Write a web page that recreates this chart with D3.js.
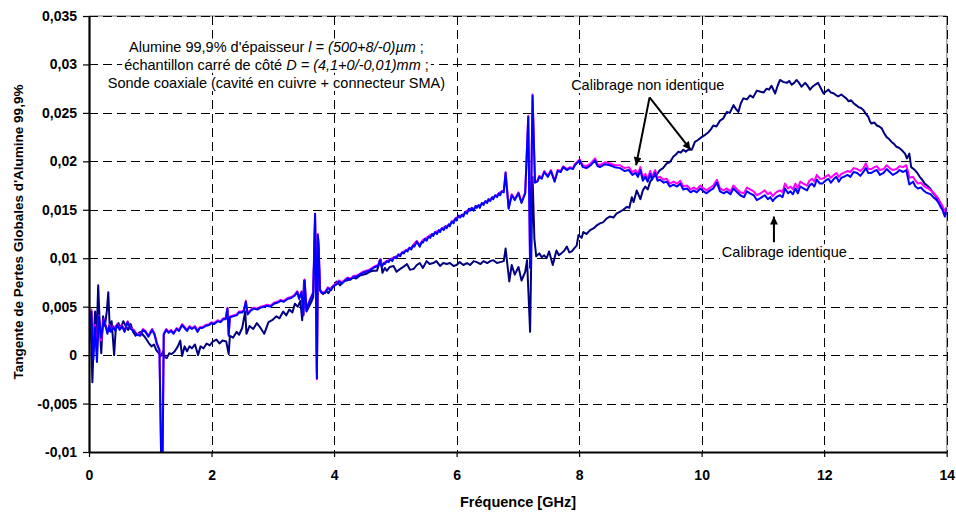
<!DOCTYPE html>
<html>
<head>
<meta charset="utf-8">
<script src="https://cdn.jsdelivr.net/npm/d3@7"></script>
<style>
  html, body { margin: 0; padding: 0; background: #ffffff; }
  svg { display: block; font-family: Arial, "Liberation Sans", Helvetica, sans-serif; }
</style>
</head>
<body>
<svg id="chart" width="956" height="512"></svg>
<script>
// ---- Axes: tick values and their printed labels (French decimal comma) ----
const xTicks = [0, 2, 4, 6, 8, 10, 12, 14];
const xTickLabels = ["0", "2", "4", "6", "8", "10", "12", "14"];
const yTicks = [-0.01, -0.005, 0, 0.005, 0.01, 0.015, 0.02, 0.025, 0.03, 0.035];
const yTickLabels = ["-0,01", "-0,005", "0", "0,005", "0,01", "0,015", "0,02", "0,025", "0,03", "0,035"];

// ---- Calibrage identique, run 1 (magenta): frequency (GHz) and loss tangent ----
const freqMagenta = [
  0.02,0.04,0.07,0.10,0.13,0.16,0.20,0.24,0.27,0.30,0.33,0.36,0.40,0.43,0.46,0.50,0.54,0.58,0.63,0.68,0.73,0.78,0.84,0.88,0.92,0.97,1.03,1.07,1.11,1.15,1.18,1.20,1.22,
  1.26,1.30,1.34,1.38,1.43,1.47,1.52,1.56,1.60,1.64,1.68,1.73,1.77,1.81,1.85,1.90,1.96,2.00,2.04,2.10,2.15,2.19,2.23,2.26,2.28,2.30,2.35,2.41,2.45,2.50,2.53,2.56,2.59,2.64,2.69,2.75,2.80,2.86,2.91,2.96,3.02,3.07,3.13,3.18,3.24,3.30,3.35,3.40,3.43,3.47,3.50,3.52,3.55,3.58,3.61,3.66,
  3.69,3.705,3.72,3.735,3.75,3.77,
  3.80,3.85,3.90,3.95,3.99,4.04,4.08,4.13,4.18,4.22,4.27,4.32,4.37,4.42,4.47,4.52,4.57,4.62,4.67,4.72,4.75,4.78,4.83,4.89,4.95,5.02,5.08,5.14,5.20,5.26,5.31,5.35,5.40,5.45,5.51,5.57,5.62,5.68,5.73,5.79,5.84,5.89,5.95,6.00,6.06,6.11,6.17,6.22,6.28,6.33,6.38,6.44,6.50,6.55,6.60,6.66,6.71,6.77,
  6.80,6.85,6.90,6.95,7.01,7.06,7.12,7.17,7.20,7.24,7.28,7.32,7.35,7.39,7.43,7.49,7.54,7.60,7.65,7.70,7.74,7.80,7.85,7.90,7.93,8.01,
  8.06,8.12,8.19,8.26,8.30,8.34,8.42,8.50,8.58,8.67,8.74,8.81,8.87,8.92,8.96,9.00,9.04,9.08,9.12,9.16,9.19,9.24,9.28,9.32,9.38,9.43,9.48,9.54,9.60,9.65,9.70,9.76,9.82,9.87,9.92,9.98,10.03,10.08,10.14,10.19,10.25,10.30,10.36,10.41,10.47,10.52,10.58,10.63,10.69,10.74,10.79,10.85,10.90,10.96,
  11.03,11.08,11.12,11.16,11.20,11.24,11.28,11.32,11.36,11.41,11.45,11.49,11.53,11.57,11.61,11.66,11.72,11.76,11.80,11.84,11.88,11.93,11.97,12.02,12.07,12.11,12.16,12.20,12.24,12.28,12.32,12.38,12.43,12.48,12.54,12.59,12.64,12.68,12.72,12.77,12.82,12.86,12.91,12.97,13.02,13.07,13.12,13.18,13.23,13.29,13.34,13.37,13.39,13.45,13.49,13.53,13.58,13.62,13.66,13.70,13.74,13.78,13.82,13.86,13.90,13.93,13.97,14.00
];
const tanMagenta = [
  0.0036,0.0047,0.0010,0.0031,0.0002,0.0041,0.0015,0.0037,0.0031,0.0024,0.0031,0.0025,0.0030,0.0026,0.0032,0.0027,0.0031,0.0025,0.0035,0.0028,0.0026,0.0022,0.0021,0.0027,0.0025,0.0020,0.0027,0.0022,0.0012,0.0006,-0.0115,-0.0115,0.0022,
  0.0027,0.0024,0.0026,0.0023,0.0028,0.0026,0.0032,0.0029,0.0026,0.0030,0.0028,0.0030,0.0025,0.0029,0.0029,0.0031,0.0032,0.0034,0.0033,0.0036,0.0035,0.0038,0.0038,0.0049,0.0021,0.0040,0.0041,0.0042,0.0045,0.0045,0.0047,0.0056,0.0043,0.0047,0.0049,0.0048,0.0050,0.0051,0.0052,0.0051,0.0054,0.0055,0.0057,0.0056,0.0059,0.0060,0.0062,0.0066,0.0059,0.0066,0.0042,0.0078,0.0047,0.0053,0.0058,0.0065,
  0.0146,0.0071,-0.0025,0.0125,0.0111,0.0068,
  0.0065,0.0065,0.0070,0.0068,0.0072,0.0074,0.0077,0.0075,0.0078,0.0080,0.0079,0.0082,0.0082,0.0084,0.0086,0.0087,0.0088,0.0090,0.0092,0.0093,0.0099,0.0092,0.0096,0.0098,0.0100,0.0102,0.0104,0.0107,0.0109,0.0111,0.0115,0.0118,0.0113,0.0119,0.0121,0.0124,0.0125,0.0128,0.0129,0.0132,0.0133,0.0135,0.0139,0.0142,0.0144,0.0145,0.0149,0.0151,0.0151,0.0154,0.0154,0.0157,0.0159,0.0161,0.0163,0.0165,0.0168,0.0170,
  0.0189,0.0152,0.0166,0.0161,0.0168,0.0158,0.0168,0.0247,0.0091,0.0269,0.0179,0.0180,0.0185,0.0183,0.0190,0.0185,0.0191,0.0180,0.0191,0.0190,0.0195,0.0192,0.0194,0.0193,0.0197,0.0202,
  0.0196,0.0195,0.0198,0.0203,0.0197,0.0196,0.0199,0.0198,0.0196,0.0196,0.0193,0.0194,0.0189,0.0191,0.0187,0.0194,0.0183,0.0187,0.0182,0.0190,0.0184,0.0191,0.0183,0.0184,0.0181,0.0182,0.0177,0.0179,0.0177,0.0180,0.0174,0.0175,0.0171,0.0173,0.0171,0.0175,0.0172,0.0170,0.0173,0.0175,0.0181,0.0172,0.0170,0.0172,0.0169,0.0175,0.0171,0.0168,0.0167,0.0173,0.0171,0.0169,0.0165,0.0167,
  0.0170,0.0166,0.0168,0.0164,0.0167,0.0169,0.0170,0.0168,0.0177,0.0172,0.0174,0.0171,0.0177,0.0172,0.0179,0.0177,0.0175,0.0180,0.0182,0.0179,0.0186,0.0182,0.0182,0.0184,0.0186,0.0183,0.0186,0.0188,0.0184,0.0187,0.0188,0.0190,0.0189,0.0193,0.0192,0.0190,0.0193,0.0198,0.0192,0.0192,0.0194,0.0195,0.0191,0.0192,0.0196,0.0193,0.0191,0.0192,0.0195,0.0194,0.0196,0.0189,0.0183,0.0184,0.0180,0.0177,0.0178,0.0175,0.0173,0.0172,0.0170,0.0168,0.0165,0.0162,0.0157,0.0154,0.0147,0.0153
];

// ---- Calibrage identique, run 2 (blue): frequency (GHz) and loss tangent ----
const freqBleu = [
  0.02,0.04,0.07,0.10,0.13,0.16,0.20,0.24,0.27,0.30,0.33,0.36,0.40,0.43,0.46,0.50,0.54,0.58,0.63,0.68,0.73,0.78,0.84,0.88,0.92,0.97,1.03,1.07,1.11,1.15,1.18,1.20,1.22,
  1.26,1.30,1.34,1.38,1.43,1.47,1.52,1.56,1.60,1.64,1.68,1.73,1.77,1.81,1.85,1.90,1.96,2.00,2.04,2.10,2.15,2.19,2.23,2.26,2.28,2.30,2.35,2.41,2.45,2.50,2.53,2.56,2.59,2.64,2.69,2.75,2.80,2.86,2.91,2.96,3.02,3.07,3.13,3.18,3.24,3.30,3.35,3.40,3.43,3.47,3.50,3.52,3.55,3.58,3.61,3.66,
  3.69,3.705,3.72,3.735,3.75,3.77,
  3.80,3.85,3.90,3.95,3.99,4.04,4.08,4.13,4.18,4.22,4.27,4.32,4.37,4.42,4.47,4.52,4.57,4.62,4.67,4.72,4.75,4.78,
  4.81,4.83,4.86,4.89,4.92,4.95,4.98,5.02,5.05,5.08,5.11,5.14,5.17,5.20,5.23,5.26,5.29,5.31,5.35,5.40,5.43,5.45,5.48,5.51,5.54,5.57,5.60,5.62,5.65,5.68,5.71,5.73,5.76,5.79,5.82,5.84,5.87,5.89,5.92,5.95,5.98,
  6.00,6.03,6.06,6.09,6.11,6.14,6.17,6.20,6.22,6.25,6.28,6.31,6.33,6.36,6.38,6.41,6.44,6.47,6.50,6.52,6.55,6.58,6.60,6.63,6.66,6.69,6.71,6.74,6.77,
  6.80,6.85,6.90,6.95,7.01,7.06,7.12,7.17,7.20,7.24,7.28,7.32,7.35,7.39,7.43,7.49,7.54,7.60,7.65,7.70,7.74,7.80,7.85,7.90,7.93,8.01,
  8.06,8.12,8.19,8.26,8.30,8.34,8.42,8.50,8.58,8.67,8.74,8.81,8.87,8.92,8.96,9.00,9.04,9.08,9.12,9.16,9.19,9.24,9.28,9.32,9.38,9.43,9.48,9.54,9.60,9.65,9.70,9.76,9.82,9.87,9.92,9.98,10.03,10.08,10.14,10.19,10.25,10.30,10.36,10.41,10.47,10.52,10.58,10.63,10.69,10.74,10.79,10.85,10.90,10.96,
  11.03,11.08,11.12,11.16,11.20,11.24,11.28,11.32,11.36,11.41,11.45,11.49,11.53,11.57,11.61,11.66,11.72,11.76,11.80,11.84,11.88,11.93,11.97,12.02,12.07,12.11,12.16,12.20,12.24,12.28,12.32,12.38,12.43,12.48,12.54,12.59,12.64,12.68,12.72,12.77,12.82,12.86,12.91,12.97,13.02,13.07,13.12,13.18,13.23,13.29,13.34,13.37,13.39,13.45,13.49,13.53,13.58,13.62,13.66,13.70,13.74,13.78,13.82,13.86,13.90,13.93,13.97,14.00
];
const tanBleu = [
  0.0029,0.0045,-0.0005,0.0029,-0.0007,0.0040,0.0018,0.0036,0.0030,0.0022,0.0030,0.0024,0.0029,0.0025,0.0031,0.0026,0.0030,0.0024,0.0034,0.0027,0.0025,0.0021,0.0020,0.0026,0.0024,0.0019,0.0026,0.0021,0.0011,0.0005,-0.0115,-0.0115,0.0021,
  0.0026,0.0023,0.0025,0.0022,0.0027,0.0025,0.0031,0.0028,0.0025,0.0029,0.0027,0.0029,0.0024,0.0028,0.0028,0.0030,0.0031,0.0033,0.0032,0.0035,0.0034,0.0037,0.0037,0.0048,0.0020,0.0039,0.0040,0.0041,0.0044,0.0044,0.0046,0.0055,0.0042,0.0046,0.0048,0.0047,0.0049,0.0050,0.0051,0.0050,0.0053,0.0054,0.0056,0.0055,0.0058,0.0059,0.0061,0.0065,0.0058,0.0065,0.0041,0.0077,0.0046,0.0052,0.0057,0.0064,
  0.0146,0.0070,-0.0024,0.0124,0.0110,0.0067,
  0.0064,0.0064,0.0069,0.0067,0.0071,0.0073,0.0076,0.0074,0.0077,0.0079,0.0078,0.0081,0.0081,0.0083,0.0085,0.0086,0.0087,0.0089,0.0091,0.0092,0.0098,0.0091,
  0.0095,0.0094,0.0097,0.0096,0.0099,0.0097,0.0101,0.0100,0.0104,0.0102,0.0106,0.0105,0.0108,0.0107,0.0111,0.0109,0.0113,0.0112,0.0117,0.0112,0.0117,0.0116,0.0120,0.0118,0.0122,0.0121,0.0125,0.0123,0.0127,0.0125,0.0129,0.0127,0.0131,0.0129,0.0133,0.0131,0.0135,0.0133,0.0138,0.0136,0.0141,
  0.0139,0.0144,0.0142,0.0145,0.0143,0.0148,0.0146,0.0151,0.0149,0.0152,0.0149,0.0154,0.0152,0.0155,0.0152,0.0157,0.0155,0.0159,0.0157,0.0161,0.0159,0.0163,0.0161,0.0165,0.0163,0.0167,0.0165,0.0169,0.0168,
  0.0188,0.0151,0.0165,0.0160,0.0167,0.0157,0.0167,0.0246,0.0090,0.0268,0.0178,0.0179,0.0184,0.0182,0.0189,0.0184,0.0190,0.0179,0.0190,0.0189,0.0194,0.0191,0.0193,0.0192,0.0196,0.0201,
  0.0194,0.0193,0.0196,0.0201,0.0195,0.0194,0.0197,0.0196,0.0194,0.0193,0.0190,0.0191,0.0186,0.0188,0.0184,0.0191,0.0180,0.0184,0.0179,0.0187,0.0181,0.0188,0.0180,0.0181,0.0178,0.0179,0.0174,0.0176,0.0174,0.0177,0.0171,0.0172,0.0168,0.0170,0.0168,0.0172,0.0169,0.0167,0.0170,0.0172,0.0178,0.0169,0.0167,0.0169,0.0166,0.0172,0.0168,0.0165,0.0163,0.0169,0.0167,0.0165,0.0160,0.0162,
  0.0165,0.0161,0.0163,0.0159,0.0162,0.0164,0.0165,0.0163,0.0172,0.0167,0.0169,0.0166,0.0172,0.0167,0.0174,0.0172,0.0170,0.0175,0.0177,0.0174,0.0181,0.0177,0.0177,0.0180,0.0182,0.0178,0.0182,0.0184,0.0179,0.0183,0.0184,0.0186,0.0184,0.0189,0.0188,0.0185,0.0189,0.0193,0.0188,0.0188,0.0190,0.0191,0.0186,0.0188,0.0192,0.0189,0.0186,0.0188,0.0191,0.0189,0.0191,0.0182,0.0176,0.0179,0.0174,0.0172,0.0173,0.0170,0.0168,0.0167,0.0166,0.0163,0.0161,0.0158,0.0153,0.0150,0.0143,0.0152
];

// ---- Calibrage non identique: frequency (GHz) and loss tangent ----
const freqNonIdentique = [
  0.02,0.04,0.055,0.08,0.10,0.12,0.15,0.18,0.20,0.23,0.26,0.29,0.315,0.34,0.37,0.41,0.44,0.48,0.52,0.56,0.60,0.64,0.68,0.72,0.76,0.80,0.84,0.88,0.92,0.97,1.02,1.06,1.10,1.14,1.17,1.21,1.24,1.27,1.31,1.35,1.40,1.45,1.49,1.52,1.56,1.60,1.64,1.68,1.73,1.78,1.82,1.87,1.92,1.97,
  2.02,2.08,2.13,2.18,2.24,2.28,2.30,2.35,2.41,2.45,2.50,2.55,2.57,2.62,2.68,2.74,2.79,2.86,2.93,2.99,3.06,3.11,3.17,3.22,3.27,3.32,3.36,3.41,3.45,3.48,3.51,3.55,3.59,3.63,3.66,3.69,3.72,3.74,3.77,3.82,3.87,3.91,3.96,
  4.00,4.04,4.10,4.15,4.20,4.26,4.31,4.36,4.42,4.47,4.53,4.58,4.64,4.70,4.76,4.79,4.83,4.86,4.91,4.97,5.02,5.08,5.13,5.19,5.24,5.30,5.35,5.40,5.45,5.51,5.56,5.62,5.67,5.73,5.78,5.84,5.89,5.95,
  6.00,6.05,6.11,6.17,6.22,6.28,6.33,6.39,6.44,6.50,6.55,6.60,6.66,6.71,6.77,6.80,6.86,6.90,6.95,7.01,7.06,7.12,7.15,7.20,7.24,7.27,7.30,7.35,7.39,7.43,7.47,7.51,7.57,7.63,7.67,7.71,7.76,7.80,7.84,7.88,7.93,7.96,7.99,
  8.04,8.07,8.12,8.18,8.24,8.29,8.34,8.39,8.45,8.50,8.56,8.61,8.67,8.72,8.78,8.82,8.86,8.89,8.94,9.00,9.04,9.08,9.12,9.16,9.21,9.26,9.32,9.37,9.43,9.48,9.54,9.58,9.62,9.66,9.70,9.74,9.78,9.84,9.89,9.94,
  10.00,10.05,10.11,10.15,10.19,10.24,10.30,10.35,10.41,10.46,10.52,10.56,10.60,10.64,10.68,10.74,10.79,10.84,10.90,10.95,11.01,11.06,11.10,11.14,11.20,11.24,11.28,11.33,11.39,11.43,11.47,11.51,11.55,11.59,11.63,11.69,11.73,11.77,11.81,11.85,11.90,11.95,
  11.99,12.03,12.07,12.11,12.16,12.20,12.23,12.28,12.32,12.36,12.40,12.44,12.48,12.52,12.56,12.60,12.64,12.68,12.72,12.75,12.77,12.82,12.86,12.90,12.94,12.98,13.02,13.06,13.10,13.14,13.18,13.22,13.26,13.32,13.35,13.39,13.42,13.48,13.52,13.56,13.60,13.64,13.68,13.73,13.77,13.81,13.85,13.89,13.93,13.97,14.00
];
const tanNonIdentique = [
  0.0040,0.0010,-0.0028,0.0020,0.0045,0.0010,0.0072,0.0025,0.0002,0.0040,0.0030,0.0045,0.0065,0.0025,0.0035,0.0000,0.0030,0.0033,0.0028,0.0035,0.0030,0.0026,0.0032,0.0024,0.0020,0.0022,0.0024,0.0021,0.0018,0.0013,0.0009,0.0011,0.0005,0.0002,-0.0001,0.0004,-0.0002,-0.0003,0.0002,0.0001,0.0004,0.0009,0.0015,-0.0001,0.0009,0.0004,0.0009,0.0007,0.0011,0.0000,0.0009,0.0007,0.0012,0.0010,
  0.0014,0.0016,0.0012,0.0015,0.0014,0.0001,0.0020,0.0018,0.0024,0.0021,0.0028,0.0045,0.0022,0.0030,0.0027,0.0033,0.0029,0.0022,0.0034,0.0036,0.0040,0.0038,0.0045,0.0041,0.0047,0.0044,0.0053,0.0050,0.0056,0.0036,0.0077,0.0045,0.0050,0.0055,0.0060,0.0140,-0.0020,0.0120,0.0067,0.0063,0.0066,0.0064,0.0070,
  0.0072,0.0076,0.0072,0.0076,0.0077,0.0078,0.0080,0.0079,0.0082,0.0083,0.0084,0.0086,0.0087,0.0087,0.0099,0.0085,0.0090,0.0087,0.0091,0.0092,0.0086,0.0089,0.0091,0.0094,0.0088,0.0089,0.0093,0.0095,0.0090,0.0097,0.0094,0.0095,0.0097,0.0092,0.0095,0.0094,0.0095,0.0092,
  0.0093,0.0096,0.0093,0.0095,0.0093,0.0097,0.0096,0.0094,0.0097,0.0095,0.0097,0.0098,0.0095,0.0096,0.0097,0.0110,0.0076,0.0093,0.0083,0.0091,0.0077,0.0086,0.0098,0.0024,0.0184,0.0120,0.0102,0.0105,0.0101,0.0103,0.0100,0.0107,0.0093,0.0108,0.0103,0.0105,0.0108,0.0112,0.0106,0.0107,0.0111,0.0113,0.0124,
  0.0121,0.0127,0.0125,0.0129,0.0131,0.0134,0.0136,0.0137,0.0141,0.0143,0.0142,0.0146,0.0148,0.0150,0.0153,0.0152,0.0163,0.0158,0.0170,0.0161,0.0170,0.0174,0.0171,0.0179,0.0184,0.0186,0.0191,0.0193,0.0198,0.0199,0.0205,0.0207,0.0210,0.0209,0.0212,0.0210,0.0212,0.0212,0.0220,0.0222,
  0.0225,0.0227,0.0230,0.0233,0.0237,0.0236,0.0242,0.0244,0.0251,0.0250,0.0258,0.0254,0.0251,0.0260,0.0265,0.0264,0.0268,0.0266,0.0273,0.0272,0.0271,0.0275,0.0274,0.0278,0.0270,0.0278,0.0284,0.0282,0.0281,0.0283,0.0279,0.0281,0.0284,0.0281,0.0277,0.0281,0.0278,0.0274,0.0277,0.0279,0.0281,0.0275,
  0.0270,0.0272,0.0274,0.0271,0.0270,0.0268,0.0267,0.0269,0.0267,0.0265,0.0262,0.0263,0.0260,0.0258,0.0256,0.0255,0.0253,0.0249,0.0246,0.0241,0.0239,0.0240,0.0237,0.0236,0.0234,0.0229,0.0225,0.0223,0.0220,0.0218,0.0215,0.0214,0.0212,0.0208,0.0203,0.0208,0.0194,0.0191,0.0188,0.0184,0.0181,0.0177,0.0175,0.0172,0.0168,0.0165,0.0161,0.0158,0.0153,0.0148,0.0145
];

// ---- Series colours ----
const colorNonIdentique = "#000080";
const colorMagenta = "#ff00ff";
const colorBleu = "#0000ff";

// ---- Layout ----
const svg = d3.select("#chart");
const plot = { left: 89, right: 946.7, top: 16, bottom: 452 };

const x = d3.scaleLinear().domain([0, 14]).range([plot.left, plot.right]);
const y = d3.scaleLinear().domain([-0.01, 0.035]).range([plot.bottom, plot.top]);

// Plot frame (light grey top and right edges)
svg.append("line").attr("x1", plot.left).attr("x2", plot.right).attr("y1", plot.top).attr("y2", plot.top)
  .attr("stroke", "#a0a0a0").attr("stroke-width", 1.5);
svg.append("line").attr("x1", plot.right).attr("x2", plot.right).attr("y1", plot.top).attr("y2", plot.bottom)
  .attr("stroke", "#a0a0a0").attr("stroke-width", 1.5);

// Dashed grid
const grid = svg.append("g").attr("stroke", "#000").attr("stroke-width", 1)
  .attr("stroke-dasharray", "9,5").attr("shape-rendering", "crispEdges");
grid.selectAll("line.h").data(yTicks.filter(d => d > -0.01)).join("line").attr("class", "h")
  .attr("x1", plot.left).attr("x2", plot.right)
  .attr("y1", d => Math.round(y(d)) + 0.5).attr("y2", d => Math.round(y(d)) + 0.5);
grid.selectAll("line.v").data(xTicks.filter(d => d > 0)).join("line").attr("class", "v")
  .attr("y1", plot.top).attr("y2", plot.bottom)
  .attr("x1", d => Math.round(x(d)) + 0.5).attr("x2", d => Math.round(x(d)) + 0.5);

// Data lines, clipped to the plot area
svg.append("defs").append("clipPath").attr("id", "plotClip")
  .append("rect").attr("x", plot.left).attr("y", plot.top)
  .attr("width", plot.right - plot.left).attr("height", plot.bottom - plot.top);

const lineGen = d3.line().x(d => x(d[0])).y(d => y(d[1]));
const series = [
  { freq: freqNonIdentique, vals: tanNonIdentique, color: colorNonIdentique },
  { freq: freqMagenta, vals: tanMagenta, color: colorMagenta },
  { freq: freqBleu, vals: tanBleu, color: colorBleu }
];
const lines = svg.append("g").attr("clip-path", "url(#plotClip)");
series.forEach(s => {
  lines.append("path")
    .datum(s.freq.map((f, i) => [f, s.vals[i]]))
    .attr("fill", "none").attr("stroke", s.color).attr("stroke-width", 2)
    .attr("stroke-linejoin", "round")
    .attr("d", lineGen);
});

// Axes
const yAxis = d3.axisLeft(y).tickValues(yTicks)
  .tickFormat((d, i) => yTickLabels[i]).tickSize(6).tickSizeOuter(0).tickPadding(6);
const xAxis = d3.axisBottom(x).tickValues(xTicks)
  .tickFormat((d, i) => xTickLabels[i]).tickSize(5).tickSizeOuter(0).tickPadding(13);

const gy = svg.append("g").attr("transform", `translate(${plot.left},0)`).call(yAxis);
const gx = svg.append("g").attr("transform", `translate(0,${plot.bottom})`).call(xAxis);
[gx, gy].forEach(g => {
  g.select(".domain").attr("stroke", "#000").attr("stroke-width", 2.2);
  g.selectAll(".tick line").attr("stroke", "#000").attr("stroke-width", 1.2);
  g.selectAll(".tick text").attr("fill", "#000").attr("font-size", 14).attr("font-weight", "bold")
    .attr("font-family", "Arial, 'Liberation Sans', sans-serif");
});

// Axis titles
svg.append("text").attr("x", 518).attr("y", 507).attr("text-anchor", "middle")
  .attr("font-size", 14.5).attr("font-weight", "bold").text("Fréquence [GHz]");
svg.append("text").attr("transform", "translate(22.5,232) rotate(-90)").attr("text-anchor", "middle")
  .attr("font-size", 13.5).attr("font-weight", "bold").text("Tangente de Pertes Globales d'Alumine 99,9%");

// Annotation text on a white backing so the grid does not run through it
const notes = svg.append("g");
function noteLine(cx, cy, parts) {
  const t = notes.append("text").attr("x", cx).attr("y", cy).attr("text-anchor", "middle")
    .attr("font-size", 14.5).attr("fill", "#000");
  parts.forEach(p => t.append("tspan").attr("font-style", p.italic ? "italic" : null).text(p.text));
  const bb = t.node().getBBox();
  notes.insert("rect", () => t.node())
    .attr("x", bb.x - 2).attr("y", bb.y).attr("width", bb.width + 4).attr("height", bb.height)
    .attr("fill", "#fff");
  return t;
}
const noteX = x(3.06);
noteLine(noteX, y(0.03133), [
  { text: "Alumine 99,9% d'épaisseur " }, { text: "l = (500+8/-0)µm", italic: true }, { text: " ;" }]);
noteLine(noteX, y(0.02945), [
  { text: "échantillon carré de côté " }, { text: "D = (4,1+0/-0,01)mm", italic: true }, { text: " ;" }]);
noteLine(noteX, y(0.02757), [{ text: "Sonde coaxiale (cavité en cuivre + connecteur SMA)" }]);
noteLine(x(9.12), y(0.02736), [{ text: "Calibrage non identique" }]);
noteLine(x(11.35), y(0.0101), [{ text: "Calibrage identique" }]);

// Callout arrows
svg.append("defs").append("marker").attr("id", "arrowHead")
  .attr("viewBox", "0 0 10 10").attr("refX", 10).attr("refY", 5)
  .attr("markerWidth", 10).attr("markerHeight", 8).attr("markerUnits", "userSpaceOnUse")
  .attr("orient", "auto")
  .append("path").attr("d", "M0,0 L10,5 L0,10 Z").attr("fill", "#000");

const arrows = [
  { from: [9.15, 0.0266], to: [8.93, 0.0196] },
  { from: [9.15, 0.0266], to: [9.82, 0.0212] },
  { from: [11.18, 0.01165], to: [11.18, 0.0143] }
];
svg.append("g").selectAll("line").data(arrows).join("line")
  .attr("x1", d => x(d.from[0])).attr("y1", d => y(d.from[1]))
  .attr("x2", d => x(d.to[0])).attr("y2", d => y(d.to[1]))
  .attr("stroke", "#000").attr("stroke-width", 2).attr("marker-end", "url(#arrowHead)");
</script>
</body>
</html>
